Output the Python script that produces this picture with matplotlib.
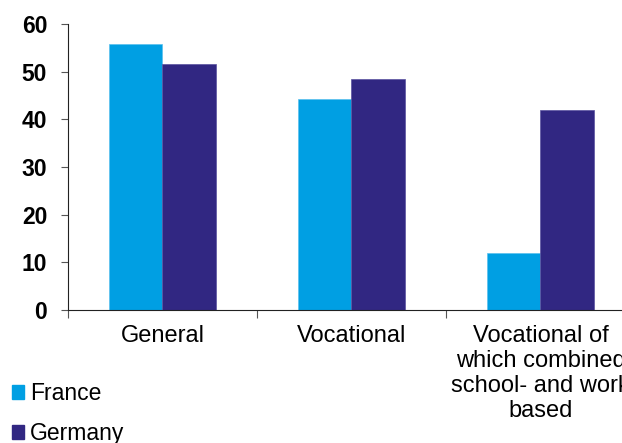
import matplotlib
matplotlib.use('Agg')
import matplotlib.pyplot as plt
import numpy as np
from matplotlib.patches import Patch

plt.rcParams['font.family'] = ['Liberation Sans', 'DejaVu Sans']

categories = ['General', 'Vocational',
              'Vocational of\nwhich combined\nschool- and work\nbased']
france = [55.8, 44.2, 11.9]
germany = [51.7, 48.4, 41.9]
series_names = ['France', 'Germany']
colors = ['#009FE3', '#312782']

fig = plt.figure(figsize=(6.22, 4.43), dpi=100)
# axes spill past the right edge, as in the source
ax = fig.add_axes([68 / 622, 133 / 443, 567 / 622, 286 / 443])

x = np.arange(len(categories))
w = 0.285
ax.bar(x - w / 2, france, w, color=colors[0], edgecolor='#5bc0ee', linewidth=0.5)
ax.bar(x + w / 2, germany, w, color=colors[1], edgecolor='#5a52a0', linewidth=0.5)

ax.set_xlim(-0.5, len(categories) - 0.5)
ax.set_ylim(0, 60)
ax.set_yticks(range(0, 61, 10))
ax.set_yticklabels([str(v) for v in range(0, 61, 10)], fontsize=16.5, fontweight='bold')
ax.tick_params(axis='y', length=5, width=0.8, color='#555555', pad=10)

# category boundary ticks on x, labels in the middle
ax.set_xticks(np.arange(-0.5, len(categories), 1.0))
ax.set_xticklabels([])
ax.set_xticks(x, minor=True)
ax.set_xticklabels(categories, minor=True, fontsize=17, linespacing=1.17)
ax.tick_params(axis='x', which='major', length=6, width=0.8, color='#555555')
ax.tick_params(axis='x', which='minor', length=0, pad=11)

for s in ['top', 'right']:
    ax.spines[s].set_visible(False)
ax.spines['left'].set_color('#222222')
ax.spines['bottom'].set_color('#222222')

handles = [Patch(color=c, label=n) for c, n in zip(colors, series_names)]
fig.legend(handles=handles, loc='upper left', bbox_to_anchor=(5 / 622, 68 / 443),
           frameon=False, fontsize=16.5, handlelength=0.55, handleheight=0.55,
           handletextpad=0.25, labelspacing=0.75, borderaxespad=0, borderpad=0.3)

fig.savefig('out.png', dpi=100)
